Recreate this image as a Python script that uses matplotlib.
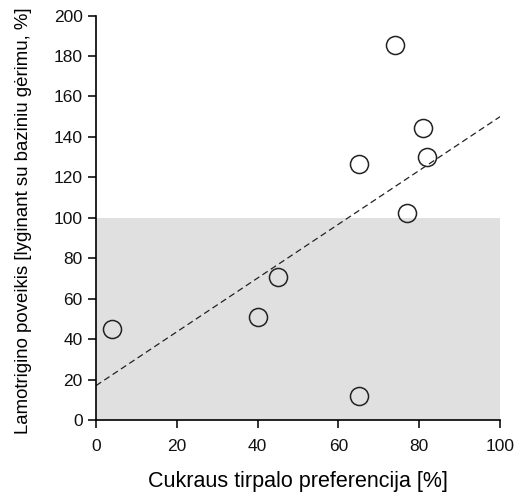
import numpy as np
import matplotlib.pyplot as plt

# data
preference = [4, 40, 45, 65, 77, 65, 74, 81, 82]
effect = [45, 51, 70.5, 12, 102.5, 126.5, 185.5, 144.5, 130]
fit_x = [0, 100]
fit_y = [17, 150]
xticks = [0, 20, 40, 60, 80, 100]
yticks = [0, 20, 40, 60, 80, 100, 120, 140, 160, 180, 200]

plt.rcParams['font.family'] = ['Liberation Sans', 'DejaVu Sans']

fig = plt.figure(figsize=(5.16, 4.95), dpi=100)
ax = fig.add_axes([0.186, 0.1515, 0.783, 0.817])

# shaded band below 100 %
ax.fill_between([0, 100], 0, 100, color='#e0e0e0', lw=0, zorder=0)
ax.plot(fit_x, fit_y, ls=(0, (5, 3)), color='#222222', lw=0.9, zorder=2)
ax.plot(preference, effect, 'o', ms=13, mfc='none', mec='#222222', mew=1.1,
        clip_on=False, zorder=3)

ax.set_xlim(0, 100)
ax.set_ylim(0, 200)
ax.set_xticks(xticks)
ax.set_yticks(yticks)
ax.spines['top'].set_visible(False)
ax.spines['right'].set_visible(False)
ax.spines['left'].set_linewidth(1.2)
ax.spines['bottom'].set_linewidth(1.2)
ax.tick_params(direction='out', length=6, width=1.2, labelsize=12.5, colors='#111111')
ax.tick_params(axis='x', pad=8)
ax.set_xlabel('Cukraus tirpalo preferencija [%]', fontsize=15.5, labelpad=12)
ax.set_ylabel('Lamotrigino poveikis [lyginant su baziniu gėrimu, %]', fontsize=13.4)
ax.yaxis.set_label_coords(-0.158, 0.492)

fig.savefig('out.png', dpi=100)
